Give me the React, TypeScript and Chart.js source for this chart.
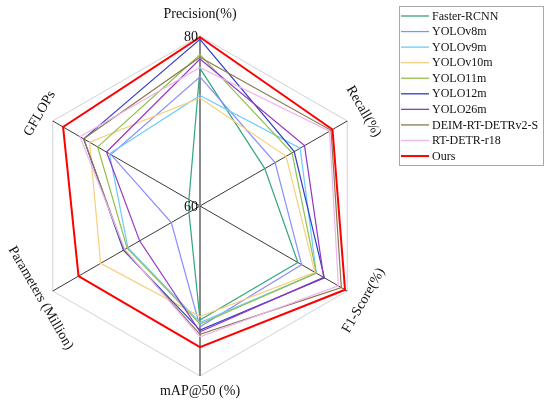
import React, { useEffect, useRef } from "react";
import { Chart, registerables } from "chart.js";

Chart.register(...registerables);

const axisLabels = ["Precision(%)", "Recall(%)", "F1-Score(%)", "mAP@50 (%)", "Parameters (Million)", "GFLOPs"];
const rTicks = [60, 80];

const fasterRcnn = [76.2, 68.8, 73.3, 73.4, 61.5, 61.5];
const yolov8m = [75.2, 70.2, 73.8, 74.2, 63.9, 72.1];
const yolov9m = [73.0, 73.6, 75.8, 73.7, 69.8, 72.3];
const yolov10m = [72.7, 71.7, 75.6, 73.0, 73.5, 75.0];
const yolo11m = [77.8, 72.5, 75.8, 73.9, 69.9, 73.9];
const yolo12m = [79.6, 72.8, 76.9, 74.6, 70.4, 75.8];
const yolo26m = [77.3, 74.2, 76.8, 74.8, 68.2, 72.7];
const deim = [77.5, 77.8, 79.2, 75.1, 70.3, 75.8];
const rtdetr = [76.3, 77.6, 78.8, 75.4, 70.2, 76.3];
const ours = [79.85, 78.0, 79.7, 76.6, 76.5, 78.6];

const modelNames = ["Faster-RCNN", "YOLOv8m", "YOLOv9m", "YOLOv10m", "YOLO11m", "YOLO12m", "YOLO26m", "DEIM-RT-DETRv2-S", "RT-DETR-r18", "Ours"];
const modelValues = [fasterRcnn, yolov8m, yolov9m, yolov10m, yolo11m, yolo12m, yolo26m, deim, rtdetr, ours];
const modelColors = ["#33a57c", "#8a8cff", "#6ccbff", "#f7cf7f", "#93c04a", "#2f3ec4", "#9436c4", "#8a7a50", "#efb3f0", "#ff0000"];

const FONT = "'Liberation Serif', 'Times New Roman', serif";

const overlayPlugin = {
  id: "overlay",
  afterDraw(chart: any) {
    const ctx = chart.ctx;
    const scale = chart.scales.r;
    const rot = [0, 60, -60, 0, 60, -60];
    const off = [22, 19, 19, 15, 14, 15];
    ctx.save();
    ctx.fillStyle = "#111";
    ctx.font = `14px ${FONT}`;
    ctx.textAlign = "center";
    ctx.textBaseline = "middle";
    axisLabels.forEach((lab, i) => {
      const p = scale.getPointPosition(i, scale.drawingArea + off[i]);
      ctx.save();
      ctx.translate(p.x, p.y);
      ctx.rotate((rot[i] * Math.PI) / 180);
      ctx.fillText(lab, 0, 0);
      ctx.restore();
    });
    ctx.textAlign = "right";
    rTicks.forEach((t) => {
      const d = scale.getDistanceFromCenterForValue(t);
      ctx.fillText(String(t), scale.xCenter - 2, scale.yCenter - d + 1);
    });
    ctx.restore();

    const bx = 399.5, by = 6.5, bw = 144, bh = 159;
    ctx.save();
    ctx.strokeStyle = "#a8a8a8";
    ctx.lineWidth = 1;
    ctx.strokeRect(bx, by, bw, bh);
    ctx.font = `12px ${FONT}`;
    ctx.textAlign = "left";
    ctx.textBaseline = "middle";
    modelNames.forEach((name, i) => {
      const y = 16 + i * 15.56;
      ctx.strokeStyle = modelColors[i];
      ctx.lineWidth = i === modelNames.length - 1 ? 2 : 1.3;
      ctx.beginPath();
      ctx.moveTo(401, y);
      ctx.lineTo(429, y);
      ctx.stroke();
      ctx.fillStyle = "#111";
      ctx.fillText(name, 432, y + 0.5);
    });
    ctx.restore();
  },
};

export default function App() {
  const ref = useRef<HTMLCanvasElement>(null);
  useEffect(() => {
    if (!ref.current) return;
    const chart = new Chart(ref.current, {
      type: "radar",
      data: {
        labels: axisLabels,
        datasets: modelNames.map((name, i) => ({
          label: name,
          data: modelValues[i],
          borderColor: modelColors[i],
          backgroundColor: "transparent",
          borderWidth: i === modelNames.length - 1 ? 2 : 1.2,
          pointRadius: 0,
          pointHoverRadius: 0,
          fill: false,
          tension: 0,
          order: modelNames.length - i,
        })),
      },
      options: {
        animation: false,
        responsive: false,
        devicePixelRatio: 1,
        layout: { padding: { left: 30, right: 180, top: 36, bottom: 30 } },
        plugins: { legend: { display: false }, tooltip: { enabled: false } },
        scales: {
          r: {
            min: 60,
            max: 80,
            ticks: { display: false, stepSize: 20 },
            pointLabels: { display: false },
            grid: { color: "#d2d2d2", lineWidth: 1, circular: false },
            angleLines: {
              color: (c: any) => (c.index === 0 || c.index === 3 ? "#8a8a8a" : "#3a3a3a"),
              lineWidth: (c: any) => (c.index === 0 || c.index === 3 ? 2 : 1),
            },
          },
        },
      },
      plugins: [overlayPlugin],
    });
    return () => chart.destroy();
  }, []);
  return (
    <div style={{ position: "absolute", left: 0, top: 0, width: 550, height: 406, background: "#fff" }}>
      <canvas ref={ref} width={550} height={406} style={{ display: "block" }} />
    </div>
  );
}
